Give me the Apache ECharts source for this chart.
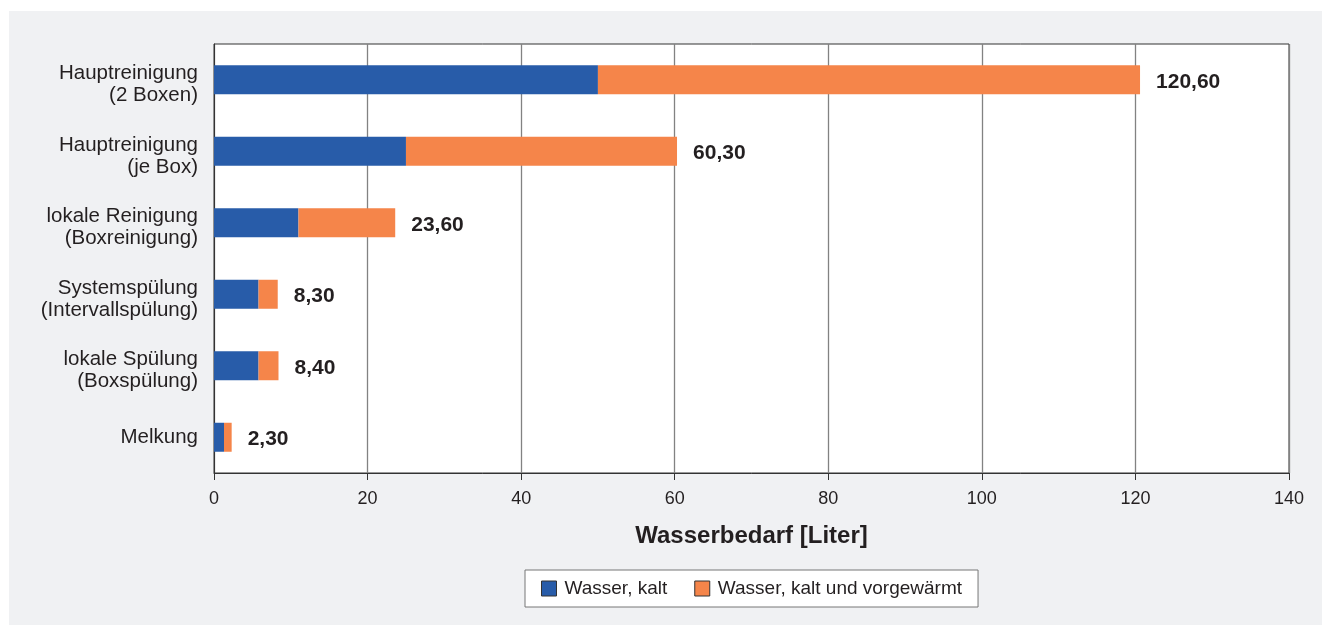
<!DOCTYPE html>
<html>
<head>
<meta charset="utf-8">
<script src="https://cdn.jsdelivr.net/npm/echarts@6/dist/echarts.min.js"></script>
<style>
  html, body { margin: 0; padding: 0; background: #ffffff; }
  #panel { position: absolute; left: 9px; top: 11px; width: 1313px; height: 614px; background: #f0f1f3; }
  #chart { position: absolute; left: 0; top: 0; width: 1322px; height: 625px; }
</style>
</head>
<body>
<div id="panel"></div>
<div id="chart"></div>
<script>
// Categories (top to bottom)
const categories = [
  'Hauptreinigung\n(2 Boxen)',
  'Hauptreinigung\n(je Box)',
  'lokale Reinigung\n(Boxreinigung)',
  'Systemspülung\n(Intervallspülung)',
  'lokale Spülung\n(Boxspülung)',
  'Melkung'
];
// Water demand in litres
const coldWater = [50.0, 25.0, 11.0, 5.8, 5.8, 1.3];
const warmWater = [70.6, 35.3, 12.6, 2.5, 2.6, 1.0];
const seriesNames = ['Wasser, kalt', 'Wasser, kalt und vorgewärmt'];
const xTicks = { min: 0, max: 140, interval: 20 };

const textColor = '#231f20';
const font = 'Liberation Sans, Arial, Helvetica, sans-serif';

function fmtTotal(i) {
  return (coldWater[i] + warmWater[i]).toFixed(2).replace('.', ',');
}

// two-line category labels get a thin spacer line so they sit slightly lower
function fmtCategory(v) {
  if (v.indexOf('\n') < 0) return '{t|' + v + '}';
  return '{s| }\n' + v.split('\n').map(s => '{t|' + s + '}').join('\n');
}

const chart = echarts.init(document.getElementById('chart'), null, { renderer: 'canvas' });
chart.setOption({
  animation: false,
  backgroundColor: 'transparent',
  textStyle: { fontFamily: font, color: textColor },
  grid: {
    left: 214, right: 33, top: 44, bottom: 152,
    show: true, backgroundColor: '#ffffff', borderColor: '#333333', borderWidth: 1
  },
  legend: {
    left: 525, top: 570,
    padding: [9, 16, 9, 16],
    itemWidth: 15, itemHeight: 15, itemGap: 27,
    backgroundColor: '#ffffff', borderColor: '#777777', borderWidth: 1, borderRadius: 0,
    textStyle: { fontFamily: font, fontSize: 19, color: textColor, padding: [0, 0, 0, 3] },
    data: seriesNames.map(n => ({ name: n, icon: 'rect', itemStyle: { borderColor: '#333333', borderWidth: 1 } }))
  },
  xAxis: {
    type: 'value', min: xTicks.min, max: xTicks.max, interval: xTicks.interval,
    name: 'Wasserbedarf [Liter]', nameLocation: 'middle', nameGap: 51,
    nameTextStyle: { fontFamily: font, fontSize: 24, fontWeight: 'bold', color: textColor },
    axisLine: { show: true, lineStyle: { color: '#333333', width: 1 } },
    axisTick: { show: true, length: 7, lineStyle: { color: '#333333', width: 1 } },
    axisLabel: { fontFamily: font, fontSize: 18, color: textColor, margin: 17 },
    splitLine: { show: true, lineStyle: { color: '#828282', width: 1.3 } }
  },
  yAxis: {
    type: 'category', data: categories, inverse: true,
    axisLine: { show: true, lineStyle: { color: '#333333', width: 1 } },
    axisTick: { show: false },
    axisLabel: {
      margin: 16, align: 'right',
      formatter: fmtCategory,
      rich: {
        t: { fontFamily: font, fontSize: 20.5, lineHeight: 22, color: textColor, align: 'right' },
        s: { fontFamily: font, fontSize: 2, lineHeight: 10, align: 'right' }
      }
    }
  },
  series: [
    {
      name: seriesNames[0], type: 'bar', stack: 'total', barWidth: 29,
      itemStyle: { color: '#285ca9' },
      data: coldWater
    },
    {
      name: seriesNames[1], type: 'bar', stack: 'total', barWidth: 29,
      itemStyle: { color: '#f5854a' },
      label: {
        show: true, position: 'right', distance: 16, offset: [0, 2],
        fontFamily: font, fontSize: 21, fontWeight: 'bold', color: textColor,
        formatter: p => fmtTotal(p.dataIndex)
      },
      data: warmWater
    }
  ]
});
</script>
</body>
</html>
